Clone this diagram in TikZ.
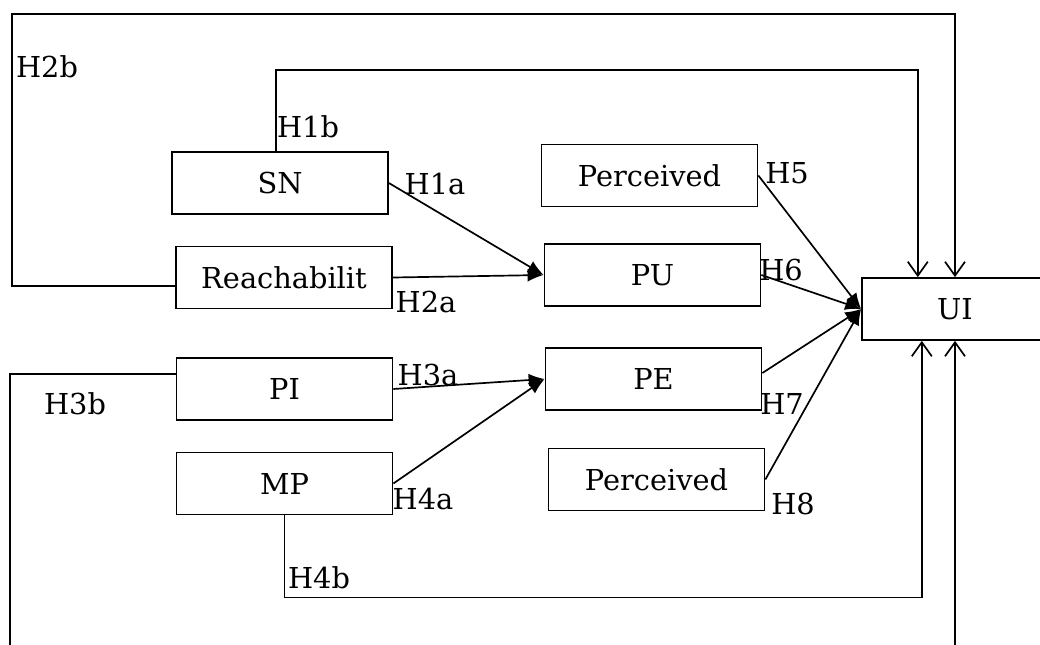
\documentclass[tikz,border=0pt]{standalone}
\usepackage{fontspec}
\setmainfont{DejaVu Serif}
\usetikzlibrary{arrows.meta}

\begin{document}
\begin{tikzpicture}[x=0.025cm, y=-0.025cm, line width=1.2pt,
    font=\fontsize{20.5}{24}\selectfont,
    box/.style={draw, minimum width=5.4cm, minimum height=1.55cm, inner sep=0pt},
    fillarrow/.style={-{Latex[length=4mm, width=3.2mm]}},
    openarrow/.style={-{Straight Barb[length=3.5mm, width=5mm]}}]
  \clip (0,0) rectangle (1040,645);
  \node (sn) [box] at (280,183) {SN};
  \node (reach) [box] at (284,277.5) {Reachabilit};
  \node (pi) [box] at (284.5,389) {PI};
  \node (mp) [box] at (284.5,483.5) {MP};
  \node (perc1) [box] at (649.5,175.5) {Perceived};
  \node (pu) [box] at (652.5,275) {PU};
  \node (pe) [box] at (653.5,379) {PE};
  \node (perc2) [box] at (656.5,479.5) {Perceived};
  \node (ui) [box, minimum width=4.65cm] at (955,309) {UI};
  \draw [fillarrow] (sn.east) -- (pu.west);
  \draw [fillarrow] (reach.east) -- (pu.west);
  \draw [fillarrow] (pi.east) -- (pe.west);
  \draw [fillarrow] (mp.east) -- (pe.west);
  \draw [fillarrow] (perc1.east) -- (ui.west);
  \draw [fillarrow] (pu.east) -- (ui.west);
  \draw [fillarrow] ([yshift=0.15cm]pe.east) -- (ui.west);
  \draw [fillarrow] (perc2.east) -- (ui.west);
  \draw [openarrow] ([xshift=-0.1cm]sn.north) -- ++(0,-81) -| ([xshift=-0.93cm]ui.north);
  \draw [openarrow] ([yshift=-0.21cm]reach.west) -| (12,14) -| (ui.north);
  \draw [openarrow] ([yshift=0.375cm]pi.west) -| (10,660) -| (ui.south);
  \draw [openarrow] (mp.south) -- ++(0,82) -| ([xshift=-0.83cm]ui.south);
  \node (h1a) at (435,184) {H1a};
  \node (h1b) at (308,127) {H1b};
  \node (h2a) at (426,302) {H2a};
  \node (h2b) at (47,67) {H2b};
  \node (h3a) at (428,375) {H3a};
  \node (h3b) at (75,404) {H3b};
  \node (h4a) at (423,499) {H4a};
  \node (h4b) at (319,578) {H4b};
  \node (h5) at (787,173) {H5};
  \node (h6) at (781,270) {H6};
  \node (h7) at (782,404) {H7};
  \node (h8) at (793,504) {H8};
\end{tikzpicture}
\end{document}
